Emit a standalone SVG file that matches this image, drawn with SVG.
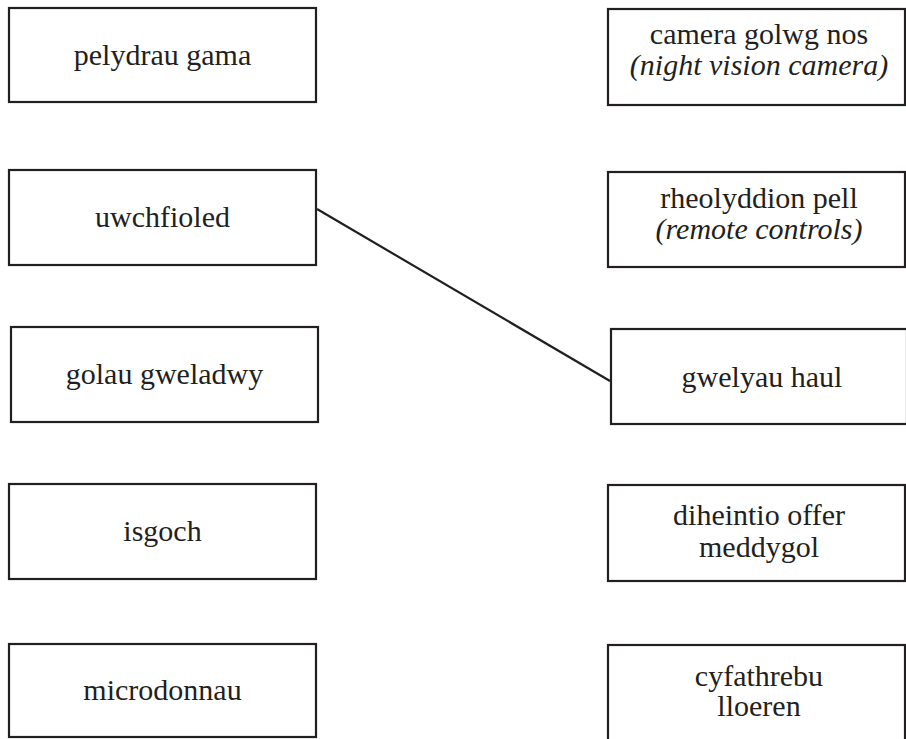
<svg xmlns="http://www.w3.org/2000/svg" width="906" height="739" viewBox="0 0 906 739">
<style>
.box{fill:#fff;stroke:#231f20;stroke-width:2.2}
.t{font-family:"Liberation Serif","Times New Roman",serif;font-size:30px;fill:#231f20;text-anchor:middle}
.i{font-style:italic}
.c{stroke:#231f20;stroke-width:2.2;fill:none}
</style>
<rect width="906" height="739" fill="#fff"/>
<g id="connectors">
<line class="c" x1="317" y1="209" x2="610" y2="381"/>
</g>
<g id="n-gama"><rect class="box" x="9" y="8" width="307" height="94"/><text class="t" x="162.5" y="65">pelydrau gama</text></g>
<g id="n-uwch"><rect class="box" x="9" y="170" width="307" height="95"/><text class="t" x="162.5" y="227">uwchfioled</text></g>
<g id="n-golau"><rect class="box" x="11" y="327" width="307" height="95"/><text class="t" x="164.5" y="384">golau gweladwy</text></g>
<g id="n-isgoch"><rect class="box" x="9" y="484" width="307" height="95"/><text class="t" x="162.5" y="541">isgoch</text></g>
<g id="n-micro"><rect class="box" x="9" y="644" width="307" height="93"/><text class="t" x="162.5" y="700">microdonnau</text></g>
<g id="n-camera"><rect class="box" x="608" y="9" width="297" height="96"/><text class="t" x="759" y="44">camera golwg nos</text><text class="t i" x="759" y="75">(night vision camera)</text></g>
<g id="n-rheol"><rect class="box" x="608" y="172" width="297" height="95"/><text class="t" x="759" y="208">rheolyddion pell</text><text class="t i" x="759" y="239">(remote controls)</text></g>
<g id="n-gwely"><rect class="box" x="611" y="329" width="296" height="95"/><text class="t" x="762" y="387">gwelyau haul</text></g>
<g id="n-dihe"><rect class="box" x="608" y="485" width="297" height="96"/><text class="t" x="759" y="525">diheintio offer</text><text class="t" x="759" y="557">meddygol</text></g>
<g id="n-cyfa"><rect class="box" x="608" y="645" width="297" height="100"/><text class="t" x="759" y="686">cyfathrebu</text><text class="t" x="759" y="716">lloeren</text></g>
</svg>
